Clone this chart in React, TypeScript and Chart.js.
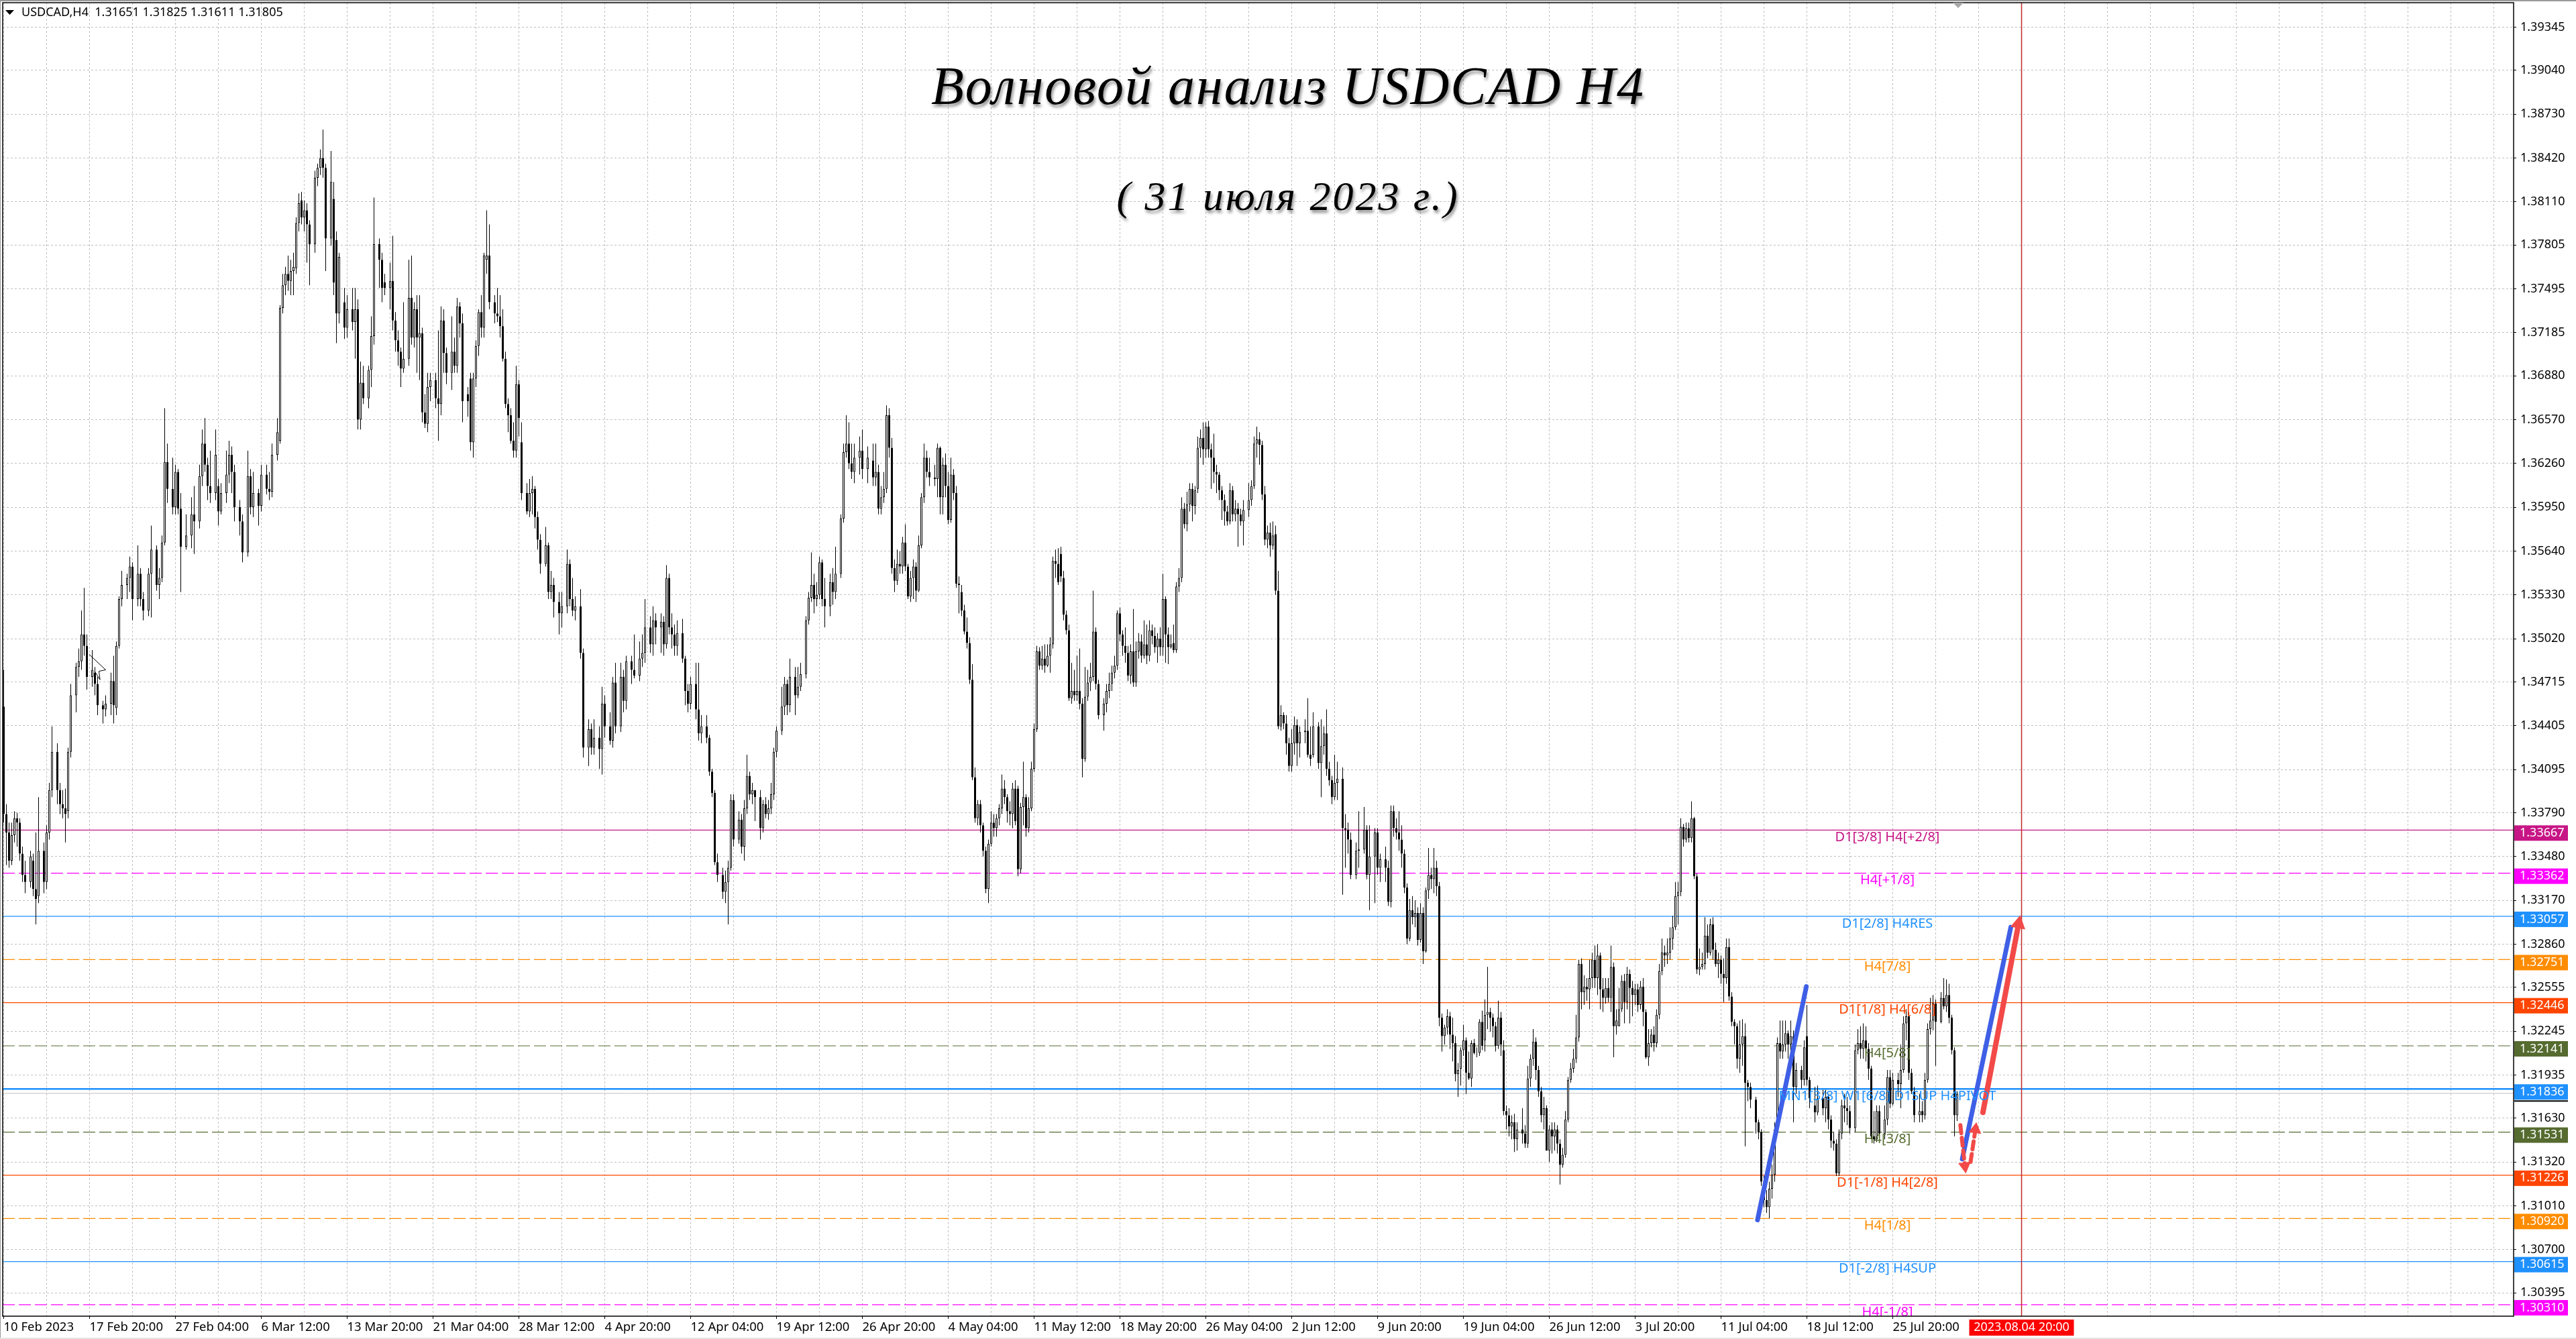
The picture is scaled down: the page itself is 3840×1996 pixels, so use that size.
import React, { useEffect, useRef } from "react";
import { Chart, registerables } from "chart.js";

Chart.register(...registerables);

// bars: [bar number, open, close, high, low], in points above 1.0000
const febBars = [
  [0,3454,3378,3480,3372],[1,3378,3365,3385,3342],[2,3365,3345,3372,3340],[3,3345,3363,3372,3342],[4,3363,3375,3380,3358],
  [5,3375,3372,3379,3355],[6,3372,3350,3375,3345],[7,3350,3335,3355,3330],[8,3335,3330,3345,3322],[10,3330,3348,3352,3326],
  [11,3345,3325,3350,3320],[12,3325,3318,3365,3300],[13,3320,3352,3390,3315],[15,3352,3330,3358,3322],[16,3330,3365,3370,3325],
  [17,3365,3395,3400,3360],[18,3395,3422,3440,3390],[20,3422,3395,3428,3385],[21,3395,3385,3400,3378],[22,3385,3382,3395,3375],
  [23,3382,3378,3396,3358],[24,3380,3422,3425,3375],[25,3422,3462,3470,3418],[27,3462,3482,3485,3450],[28,3482,3486,3495,3475],
  [29,3486,3505,3522,3480],[30,3505,3497,3538,3490],[31,3497,3475,3505,3466],[33,3475,3480,3494,3468],[34,3478,3470,3482,3462],
  [35,3470,3455,3475,3448],[37,3455,3452,3458,3442],[38,3452,3456,3462,3447],[40,3456,3472,3478,3448],[41,3472,3455,3490,3442],
  [42,3453,3497,3500,3448],[43,3497,3530,3532,3495],[44,3530,3540,3550,3525],[46,3540,3545,3548,3530],[47,3545,3553,3560,3535],
  [48,3553,3530,3556,3515],[50,3530,3548,3568,3525],[51,3548,3530,3552,3525],[52,3530,3522,3535,3515],[54,3522,3548,3552,3518],
  [55,3548,3565,3582,3517],[57,3565,3540,3568,3536],[58,3540,3545,3552,3530],[59,3545,3570,3575,3542],[60,3570,3627,3665,3568],
  [61,3627,3608,3640,3598],[63,3608,3595,3630,3590],[64,3595,3620,3625,3590],[65,3620,3594,3622,3590],[66,3594,3567,3605,3535],
  [68,3567,3575,3590,3565],[70,3575,3590,3602,3566],[71,3590,3585,3610,3562],[73,3585,3617,3625,3580],[74,3617,3640,3650,3610],
  [75,3640,3625,3658,3620],[76,3625,3610,3630,3600],[77,3610,3605,3635,3598],[79,3605,3632,3650,3600],
];

const marBars = [
  [80,3610,3592,3615,3582],[81,3592,3605,3612,3590],[83,3605,3618,3635,3598],[84,3618,3632,3642,3612],[85,3632,3620,3638,3605],
  [86,3620,3595,3625,3585],[88,3595,3585,3600,3575],[89,3585,3563,3590,3556],[91,3563,3617,3635,3560],[92,3617,3595,3622,3590],
  [93,3595,3605,3620,3588],[95,3605,3596,3608,3582],[96,3596,3618,3625,3592],[98,3618,3608,3625,3604],[99,3608,3606,3620,3600],
  [100,3606,3632,3640,3602],[102,3632,3648,3658,3628],[103,3642,3736,3738,3640],[104,3736,3752,3760,3732],[105,3752,3760,3765,3745],
  [106,3760,3755,3773,3748],[107,3755,3762,3770,3745],[108,3762,3765,3775,3745],[109,3764,3796,3800,3760],[110,3796,3810,3817,3790],
  [111,3812,3800,3818,3795],[112,3800,3805,3812,3790],[113,3805,3795,3810,3768],[114,3795,3781,3798,3752],[116,3781,3828,3833,3775],
  [117,3828,3835,3838,3822],[118,3835,3842,3848,3830],[119,3842,3835,3862,3828],[120,3835,3785,3838,3762],[122,3785,3825,3847,3780],
  [123,3813,3754,3825,3745],[124,3784,3732,3790,3711],[125,3732,3772,3775,3725],[127,3740,3722,3750,3714],[128,3722,3735,3745,3715],
  [130,3735,3726,3750,3720],[131,3726,3735,3750,3700],[132,3735,3657,3742,3650],[133,3657,3683,3698,3650],[134,3683,3672,3695,3668],
  [136,3672,3692,3695,3665],[137,3692,3716,3730,3680],[138,3716,3781,3814,3710],[140,3781,3770,3785,3750],[141,3770,3750,3775,3740],
  [142,3754,3750,3760,3745],[144,3750,3755,3768,3735],[145,3755,3727,3787,3720],[146,3727,3713,3733,3705],[147,3713,3705,3720,3695],
  [148,3705,3693,3708,3680],[149,3693,3700,3740,3690],[151,3700,3743,3770,3695],[152,3743,3715,3773,3710],[153,3715,3735,3740,3708],
  [154,3735,3715,3745,3690],[155,3715,3718,3745,3685],[156,3718,3662,3722,3655],[157,3662,3654,3675,3651],[158,3654,3680,3690,3648],
  [159,3680,3685,3690,3670],[161,3685,3672,3690,3665],[162,3672,3668,3720,3642],[163,3668,3727,3737,3660],[164,3727,3704,3735,3690],
  [165,3704,3690,3708,3682],[167,3690,3705,3730,3678],[168,3705,3695,3715,3690],[169,3695,3737,3743,3690],[170,3737,3725,3740,3715],
  [171,3725,3670,3732,3655],[173,3675,3670,3680,3659],[174,3686,3641,3690,3635],[175,3641,3686,3690,3630],[176,3686,3709,3713,3680],
  [177,3709,3733,3735,3702],[178,3733,3722,3745,3715],[179,3722,3773,3775,3715],[180,3770,3773,3805,3760],[181,3773,3740,3795,3735],
  [183,3740,3732,3745,3725],[184,3732,3730,3750,3726],[185,3730,3723,3745,3715],[186,3723,3700,3735,3698],[187,3700,3668,3705,3665],
  [188,3668,3660,3672,3648],[189,3660,3642,3665,3640],[190,3642,3635,3655,3630],[191,3635,3682,3695,3630],[192,3682,3658,3685,3645],
  [193,3641,3605,3655,3600],[195,3605,3592,3612,3590],[196,3592,3605,3615,3588],[197,3605,3608,3617,3590],[198,3608,3588,3610,3580],
  [199,3588,3572,3592,3565],[200,3572,3555,3576,3548],[202,3555,3568,3581,3553],[203,3568,3535,3570,3530],[204,3535,3540,3550,3530],
  [205,3540,3528,3545,3517],[207,3528,3520,3535,3505],[208,3520,3525,3535,3510],[210,3525,3555,3565,3520],
];

const aprBars = [
  [211,3555,3530,3558,3525],[212,3530,3522,3545,3518],[213,3522,3525,3532,3515],[215,3525,3492,3537,3488],[216,3492,3425,3495,3418],
  [218,3425,3438,3445,3412],[219,3438,3425,3442,3420],[220,3425,3432,3445,3420],[222,3432,3424,3440,3410],[223,3424,3456,3468,3406],
  [224,3456,3440,3462,3432],[226,3440,3430,3450,3427],[227,3430,3471,3475,3425],[228,3471,3440,3485,3435],[230,3440,3475,3485,3436],
  [231,3475,3458,3480,3450],[232,3458,3486,3490,3452],[234,3486,3480,3490,3470],[235,3480,3476,3505,3474],[237,3476,3488,3500,3472],
  [238,3488,3492,3505,3482],[239,3492,3510,3530,3485],[241,3510,3498,3518,3492],[242,3498,3515,3525,3490],[243,3515,3510,3520,3498],
  [245,3510,3514,3520,3492],[246,3514,3498,3518,3490],[247,3498,3545,3554,3495],[248,3545,3510,3548,3505],[249,3510,3505,3520,3495],
  [250,3505,3497,3512,3490],[251,3497,3506,3515,3490],[253,3506,3488,3516,3485],[254,3488,3465,3490,3455],[255,3465,3456,3470,3450],
  [256,3456,3470,3475,3452],[258,3470,3452,3485,3445],[259,3452,3435,3485,3430],[260,3435,3440,3448,3428],[262,3440,3432,3448,3428],
  [263,3432,3408,3434,3405],[264,3408,3393,3410,3390],[265,3393,3344,3395,3342],[266,3344,3335,3350,3330],[268,3335,3323,3340,3318],
  [269,3323,3330,3338,3315],[270,3330,3340,3345,3300],[271,3340,3388,3392,3338],[272,3388,3360,3392,3355],[274,3360,3374,3380,3357],
  [275,3374,3355,3378,3350],[276,3355,3382,3388,3345],[277,3382,3405,3420,3378],[278,3405,3392,3408,3388],[279,3392,3395,3400,3385],
  [280,3395,3390,3395,3373],[282,3390,3368,3395,3360],[283,3368,3385,3388,3365],[284,3385,3378,3390,3375],[285,3378,3382,3388,3374],
  [286,3382,3392,3400,3378],[287,3392,3422,3425,3388],[288,3422,3437,3440,3418],[290,3437,3454,3468,3434],[291,3454,3470,3475,3448],
  [292,3470,3455,3473,3448],[293,3455,3475,3488,3450],[295,3475,3462,3482,3448],[296,3462,3468,3482,3460],[297,3468,3477,3485,3465],
  [299,3477,3515,3518,3474],[300,3515,3531,3535,3512],[301,3531,3540,3563,3528],[302,3540,3530,3548,3520],[303,3530,3533,3542,3525],
  [304,3533,3556,3560,3530],[305,3556,3530,3558,3525],[306,3530,3525,3545,3510],[308,3525,3542,3548,3518],[309,3542,3535,3552,3526],
  [310,3535,3548,3567,3530],[312,3548,3587,3590,3545],[313,3587,3634,3640,3584],[314,3634,3640,3660,3630],[315,3640,3626,3655,3622],
  [316,3626,3620,3640,3615],[317,3620,3630,3640,3612],[319,3630,3635,3645,3618],[320,3635,3622,3650,3615],[322,3622,3630,3638,3612],
  [324,3628,3616,3640,3610],[325,3616,3620,3640,3610],[326,3620,3594,3625,3590],[327,3594,3602,3610,3590],[328,3602,3608,3620,3598],
  [329,3608,3660,3667,3605],[330,3660,3637,3665,3630],[331,3637,3552,3644,3548],[332,3552,3543,3558,3535],[333,3543,3555,3565,3540],
  [334,3555,3553,3564,3548],[335,3553,3570,3574,3548],[336,3570,3553,3583,3550],[337,3553,3532,3555,3530],[338,3532,3545,3550,3528],
  [339,3545,3553,3558,3530],[340,3553,3536,3556,3528],
];

const mayBars = [
  [341,3536,3568,3575,3535],[342,3568,3602,3605,3566],[343,3602,3630,3640,3598],[344,3630,3620,3635,3616],[345,3620,3616,3630,3610],
  [347,3616,3615,3625,3610],[348,3615,3637,3640,3602],[349,3637,3602,3638,3590],[350,3602,3625,3630,3590],[351,3625,3610,3633,3602],
  [352,3610,3586,3620,3583],[353,3586,3618,3630,3584],[354,3618,3605,3622,3600],[355,3605,3541,3610,3538],[356,3541,3540,3546,3520],
  [357,3535,3522,3540,3518],[358,3522,3507,3526,3505],[359,3507,3499,3517,3495],[360,3499,3473,3503,3470],[361,3473,3404,3484,3402],
  [362,3404,3375,3411,3372],[363,3375,3385,3388,3370],[364,3385,3370,3388,3365],[365,3370,3352,3372,3348],[366,3352,3325,3355,3322],
  [367,3325,3357,3360,3315],[368,3357,3372,3380,3355],[369,3372,3368,3378,3362],[370,3368,3375,3378,3362],[371,3375,3382,3385,3370],
  [372,3382,3396,3406,3378],[373,3396,3390,3402,3385],[374,3390,3380,3392,3372],[375,3380,3378,3387,3370],[376,3378,3396,3400,3368],
  [377,3396,3373,3402,3370],[378,3396,3339,3398,3334],[379,3339,3383,3386,3336],[380,3383,3390,3415,3370],[381,3390,3368,3392,3362],
  [382,3368,3382,3390,3365],[383,3382,3410,3415,3380],[384,3410,3438,3442,3408],[385,3438,3493,3497,3436],[386,3493,3483,3496,3480],
  [387,3483,3488,3497,3480],[388,3488,3483,3498,3478],[389,3483,3490,3498,3482],[390,3490,3498,3503,3478],[391,3498,3557,3560,3495],
  [392,3557,3555,3565,3545],[393,3555,3542,3566,3540],[394,3562,3546,3567,3542],[395,3545,3519,3550,3515],[396,3519,3508,3522,3505],
  [397,3508,3460,3512,3458],[398,3460,3465,3485,3456],[399,3465,3462,3480,3458],[400,3462,3465,3490,3458],[401,3465,3456,3495,3452],
  [402,3456,3417,3460,3404],[403,3417,3461,3482,3415],[404,3461,3471,3480,3458],[405,3471,3475,3485,3465],[406,3475,3507,3536,3472],
  [407,3507,3470,3510,3466],[408,3470,3448,3473,3445],[410,3448,3456,3460,3437],[411,3456,3465,3470,3450],[412,3465,3470,3478,3460],
  [413,3470,3478,3483,3465],[414,3478,3483,3490,3474],[415,3483,3520,3522,3480],[416,3520,3505,3524,3500],[417,3505,3497,3508,3490],
  [418,3497,3492,3510,3485],[419,3492,3476,3497,3472],[420,3476,3493,3498,3470],[421,3493,3471,3523,3468],[422,3471,3493,3500,3468],
  [423,3493,3500,3506,3488],[424,3500,3490,3505,3485],[425,3490,3498,3515,3488],[426,3498,3490,3512,3484],[427,3490,3508,3515,3486],
  [428,3508,3504,3512,3498],[429,3504,3496,3510,3492],[430,3496,3502,3506,3485],[431,3502,3496,3510,3490],[432,3496,3530,3548,3490],
  [433,3530,3505,3532,3485],[434,3505,3496,3510,3484],[435,3496,3498,3505,3495],[436,3499,3494,3512,3492],[437,3494,3539,3542,3492],
  [438,3539,3545,3552,3535],[439,3545,3594,3602,3542],[440,3594,3583,3598,3580],[441,3583,3597,3606,3578],[442,3597,3608,3612,3592],
  [443,3608,3596,3612,3585],[444,3596,3607,3610,3590],[445,3608,3637,3645,3605],[446,3637,3644,3650,3630],[447,3644,3636,3655,3625],
  [448,3636,3652,3655,3630],[449,3652,3636,3656,3630],[450,3636,3630,3640,3608],[451,3630,3620,3647,3612],[452,3620,3618,3625,3605],
  [453,3618,3607,3620,3600],[454,3607,3600,3610,3586],[455,3600,3592,3604,3582],[456,3592,3585,3596,3582],[457,3585,3607,3612,3583],
  [458,3607,3590,3610,3585],[459,3590,3594,3600,3585],[460,3594,3590,3598,3567],[461,3590,3585,3594,3582],[462,3585,3593,3600,3568],
  [464,3593,3600,3612,3588],[465,3600,3610,3614,3596],[466,3610,3640,3645,3608],[467,3640,3643,3652,3630],[468,3643,3639,3648,3625],
  [469,3639,3604,3642,3600],[470,3604,3572,3610,3568],
];

const junBars = [
  [471,3572,3577,3582,3566],[472,3577,3568,3584,3560],[473,3568,3575,3585,3565],[474,3576,3536,3582,3533],[475,3536,3440,3550,3438],
  [476,3440,3448,3455,3437],[477,3448,3442,3450,3438],[478,3442,3428,3448,3420],[479,3428,3412,3432,3408],[480,3412,3428,3438,3408],
  [481,3428,3441,3447,3420],[482,3441,3428,3445,3412],[483,3428,3436,3440,3418],[485,3436,3437,3445,3428],[486,3437,3420,3460,3418],
  [487,3420,3417,3440,3412],[488,3420,3440,3450,3418],[490,3440,3414,3443,3410],[491,3414,3426,3445,3390],[492,3426,3435,3440,3420],
  [493,3435,3410,3452,3405],[494,3410,3402,3415,3398],[495,3402,3390,3405,3385],[496,3390,3400,3420,3388],[497,3400,3403,3415,3388],
  [499,3403,3368,3411,3321],[500,3368,3367,3378,3340],[501,3367,3360,3372,3350],[502,3360,3335,3365,3332],[504,3335,3352,3358,3332],
  [505,3352,3353,3380,3340],[507,3353,3367,3383,3350],[508,3367,3335,3370,3332],[509,3335,3348,3370,3310],[511,3348,3365,3368,3315],
  [512,3365,3340,3368,3335],[513,3340,3346,3350,3330],[515,3346,3340,3355,3330],[516,3340,3316,3345,3313],[517,3316,3380,3384,3312],
  [518,3380,3368,3384,3362],[519,3368,3365,3375,3360],[520,3365,3360,3380,3352],[521,3360,3350,3370,3340],[522,3350,3326,3353,3322],
  [523,3326,3290,3329,3286],[524,3290,3310,3318,3288],[525,3310,3305,3320,3300],[526,3305,3308,3317,3298],[527,3308,3289,3312,3285],
  [528,3289,3308,3315,3287],[529,3308,3281,3312,3272],[530,3281,3324,3326,3280],[531,3324,3335,3354,3318],[532,3335,3332,3340,3325],
  [533,3332,3340,3354,3322],[534,3340,3327,3345,3320],[535,3327,3234,3330,3228],[536,3234,3221,3237,3210],[537,3221,3227,3229,3215],
  [538,3227,3235,3240,3222],[539,3235,3222,3238,3212],[540,3222,3216,3234,3203],[541,3216,3194,3221,3189],[542,3194,3197,3202,3178],
  [543,3198,3211,3213,3186],[544,3211,3218,3229,3207],[545,3218,3195,3220,3180],[546,3195,3191,3210,3190],[547,3191,3216,3218,3185],
  [548,3216,3209,3219,3208],[549,3209,3209,3213,3206],[550,3209,3231,3233,3207],[551,3231,3214,3239,3211],[552,3218,3236,3247,3210],
  [553,3236,3238,3270,3226],[554,3238,3234,3241,3224],[555,3234,3228,3237,3220],[556,3228,3214,3231,3210],[557,3214,3234,3246,3212],
  [558,3234,3215,3238,3207],[559,3211,3168,3218,3165],[560,3168,3165,3172,3155],[561,3165,3157,3170,3150],[562,3157,3160,3165,3148],
  [563,3160,3148,3166,3139],[564,3148,3155,3160,3140],[566,3155,3152,3170,3145],[567,3152,3145,3158,3142],[568,3145,3191,3200,3142],
  [569,3191,3205,3208,3185],[570,3205,3217,3226,3200],[571,3217,3197,3220,3190],[572,3197,3182,3200,3178],[573,3182,3165,3185,3160],
  [574,3165,3170,3178,3155],[575,3170,3140,3172,3140],[576,3140,3155,3158,3132],[577,3155,3150,3160,3138],[578,3150,3155,3160,3140],
  [579,3155,3145,3158,3138],[580,3145,3130,3148,3116],[581,3130,3137,3142,3128],[582,3137,3162,3168,3135],[583,3162,3190,3192,3160],
  [584,3190,3198,3202,3188],[585,3198,3205,3212,3195],[586,3205,3220,3236,3202],[587,3220,3272,3275,3217],[588,3272,3252,3276,3240],
  [589,3252,3256,3264,3243],[590,3256,3254,3262,3246],[591,3254,3262,3275,3240],[592,3262,3275,3280,3255],[593,3275,3262,3285,3255],
  [594,3262,3278,3286,3250],[595,3278,3254,3280,3240],[596,3254,3248,3262,3238],[597,3248,3255,3262,3244],[598,3255,3248,3262,3245],
  [599,3248,3270,3285,3238],
];

const julBars = [
  [600,3270,3228,3273,3206],[601,3228,3232,3240,3222],[602,3228,3240,3255,3228],[603,3240,3260,3264,3238],[604,3260,3245,3265,3230],
  [605,3245,3265,3270,3240],[606,3265,3255,3268,3230],[607,3255,3250,3260,3235],[608,3250,3254,3258,3243],[609,3254,3243,3258,3238],
  [610,3243,3256,3260,3240],[611,3256,3238,3262,3228],[612,3238,3206,3240,3205],[613,3206,3216,3226,3200],[614,3216,3222,3226,3213],
  [615,3222,3216,3228,3210],[616,3216,3236,3240,3213],[617,3236,3267,3272,3233],[618,3267,3280,3290,3264],[619,3280,3278,3285,3270],
  [620,3278,3280,3290,3272],[621,3280,3290,3298,3275],[622,3290,3298,3306,3282],[623,3298,3320,3330,3296],[624,3320,3323,3330,3300],
  [625,3323,3369,3375,3320],[626,3369,3360,3371,3355],[627,3360,3368,3372,3358],[628,3368,3361,3372,3358],[629,3361,3375,3387,3358],
  [630,3375,3334,3376,3332],[631,3334,3268,3336,3265],[632,3268,3270,3283,3264],[633,3270,3272,3280,3268],[634,3272,3292,3305,3268],
  [635,3292,3280,3300,3276],[636,3280,3300,3304,3278],[637,3300,3282,3305,3275],[638,3282,3272,3287,3270],[639,3272,3275,3280,3262],
  [640,3275,3265,3278,3258],[641,3265,3262,3276,3245],[642,3262,3284,3290,3258],[643,3284,3249,3290,3246],[644,3249,3231,3252,3228],
  [645,3231,3228,3233,3215],[646,3228,3205,3230,3198],[647,3205,3215,3232,3195],[648,3215,3221,3233,3200],[649,3221,3188,3230,3143],
  [650,3188,3185,3190,3175],[651,3185,3176,3188,3170],[653,3176,3160,3178,3152],[654,3160,3153,3162,3148],[655,3153,3118,3155,3115],
  [656,3118,3105,3122,3100],[657,3105,3100,3112,3096],[658,3100,3113,3118,3092],[659,3113,3123,3130,3106],[660,3123,3155,3160,3118],
  [661,3155,3216,3220,3152],[662,3216,3210,3232,3205],[663,3210,3215,3232,3205],[664,3215,3223,3232,3210],[665,3223,3215,3225,3205],
  [666,3215,3221,3232,3210],[667,3221,3185,3225,3160],[668,3185,3197,3202,3180],[670,3197,3190,3200,3184],[671,3190,3213,3218,3186],
  [672,3221,3190,3243,3186],[673,3190,3177,3192,3170],[675,3172,3167,3185,3160],[676,3167,3177,3186,3165],[678,3177,3170,3183,3165],
  [679,3170,3178,3183,3160],[680,3178,3162,3180,3155],[681,3162,3147,3165,3142],[682,3147,3145,3153,3140],[683,3145,3124,3148,3122],
  [684,3124,3152,3155,3122],[685,3152,3172,3176,3148],[686,3172,3170,3180,3160],[687,3170,3168,3178,3158],[688,3168,3156,3172,3152],
  [690,3156,3211,3215,3153],[691,3211,3216,3226,3208],[692,3216,3212,3228,3205],[693,3212,3218,3230,3205],[694,3218,3212,3228,3203],
  [695,3212,3198,3216,3190],[696,3198,3150,3200,3148],[697,3150,3148,3168,3145],[698,3148,3168,3172,3146],[699,3168,3152,3172,3148],
  [701,3152,3162,3172,3148],[702,3162,3192,3197,3158],[703,3192,3173,3197,3170],[704,3173,3190,3195,3172],[706,3190,3187,3195,3178],
  [707,3187,3197,3215,3170],[708,3197,3230,3235,3195],[709,3230,3235,3240,3218],[710,3235,3195,3238,3190],[711,3195,3182,3198,3180],
  [712,3182,3165,3185,3160],[714,3165,3168,3180,3160],[715,3168,3165,3175,3160],[716,3165,3190,3195,3162],[717,3190,3226,3230,3188],
  [718,3226,3232,3248,3222],[719,3232,3244,3250,3225],[720,3244,3231,3247,3200],[722,3231,3248,3252,3230],[723,3248,3242,3262,3240],
  [724,3242,3250,3261,3238],[725,3250,3234,3258,3230],[726,3234,3211,3236,3208],[727,3211,3165,3213,3150],[728,3165,3180,3182,3161],
];

const priceTicks = [
  1.39345, 1.3904, 1.3873, 1.3842, 1.3811, 1.37805, 1.37495, 1.37185, 1.3688, 1.3657, 1.3626, 1.3595, 1.3564, 1.3533, 1.3502,
  1.34715, 1.34405, 1.34095, 1.3379, 1.3348, 1.3317, 1.3286, 1.32555, 1.32245, 1.31935, 1.3163, 1.3132, 1.3101, 1.307, 1.30395,
];
const dateLabels = [
  "10 Feb 2023", "17 Feb 20:00", "27 Feb 04:00", "6 Mar 12:00", "13 Mar 20:00", "21 Mar 04:00", "28 Mar 12:00", "4 Apr 20:00",
  "12 Apr 04:00", "19 Apr 12:00", "26 Apr 20:00", "4 May 04:00", "11 May 12:00", "18 May 20:00", "26 May 04:00", "2 Jun 12:00",
  "9 Jun 20:00", "19 Jun 04:00", "26 Jun 12:00", "3 Jul 20:00", "11 Jul 04:00", "18 Jul 12:00", "25 Jul 20:00",
];

const levelPrices = [1.33667, 1.33362, 1.33057, 1.32751, 1.32446, 1.32141, 1.31836, 1.31531, 1.31226, 1.3092, 1.30615, 1.3031];
const levelColors = ["#C71585", "#FF00FF", "#1E90FF", "#FF8C00", "#FF4500", "#556B2F", "#1E90FF", "#556B2F", "#FF4500", "#FF8C00", "#1E90FF", "#FF00FF"];
const levelDashed = [false, true, false, true, false, true, false, true, false, true, false, true];
const levelLabels = [
  "D1[3/8] H4[+2/8]", "H4[+1/8]", "D1[2/8] H4RES", "H4[7/8]", "D1[1/8] H4[6/8]", "H4[5/8]",
  "MN1[3/8] W1[6/8] D1SUP H4PIVOT", "H4[3/8]", "D1[-1/8] H4[2/8]", "H4[1/8]", "D1[-2/8] H4SUP", "H4[-1/8]",
];
const labelBar = 702;

const bidPrice = 1.31805;
const timeLineBar = 752;
const timeLineLabel = "2023.08.04 20:00";
const headerText = "USDCAD,H4  1.31651 1.31825 1.31611 1.31805";
const titleText = "Волновой анализ USDCAD H4";
const dateText = "( 31 июля 2023 г.)";

// hand drawn lines: [bar, price] start and end
const blueLineA = [[653.6, 1.3091], [671.8, 1.3256]];
const blueLineB = [[729.9, 1.3134], [748, 1.3298]];
const redArrow = [[737.6, 1.3167], [750.9, 1.33004]];
const redDown = [[729.2, 1.3158], [730.9, 1.3129]];
const redUp = [[733, 1.3132], [734.8, 1.3155]];
const cursorMark = [[31.8, 1.3491], [38, 1.348], [35.5, 1.3479], [35.9, 1.3473], [33.9, 1.3479]];

const allBars = [...febBars, ...marBars, ...aprBars, ...mayBars, ...junBars, ...julBars];
const price = (v: number) => 1 + v / 10000;
const pts = (list: number[][]) => list.map(([x, y]) => ({ x, y }));

const X_MIN = -0.375;
const X_MAX = 935.375;
const Y_MIN = 1.30229;
const Y_MAX = 1.39518;
const UI_FONT = '"Noto Sans"';

const zeroPadding = (scale: any) => {
  scale.paddingLeft = 0;
  scale.paddingRight = 0;
  scale.paddingTop = 0;
  scale.paddingBottom = 0;
};

const arrowLine = (data: number[][], color: string, width: number, rotation: number, radius: number, dash: number[] = []) => ({
  type: "line" as const,
  data: pts(data),
  borderColor: color,
  backgroundColor: color,
  borderWidth: width,
  borderCapStyle: "round" as const,
  borderDash: dash,
  pointStyle: "triangle" as const,
  pointRadius: [0, radius],
  pointRotation: [0, rotation],
  pointBorderWidth: 0,
  order: 0,
});

const overlayPlugin = {
  id: "mt4Overlay",
  afterDatasetsDraw(chart: any) {
    const { ctx, chartArea: a, scales } = chart;
    const { x, y } = scales;
    ctx.save();
    ctx.textBaseline = "middle";

    // level captions, cut off by the plot frame like in the terminal
    ctx.save();
    ctx.beginPath();
    ctx.rect(a.left, a.top, a.right - a.left, a.bottom - a.top);
    ctx.clip();
    ctx.font = `20px ${UI_FONT}`;
    ctx.textAlign = "center";
    levelLabels.forEach((label, i) => {
      ctx.fillStyle = levelColors[i];
      ctx.fillText(label, x.getPixelForValue(labelBar), y.getPixelForValue(levelPrices[i]) + 11);
    });
    ctx.restore();

    // frame
    ctx.strokeStyle = "#000";
    ctx.lineWidth = 1.5;
    ctx.strokeRect(a.left, a.top, a.right - a.left, a.bottom - a.top);

    // window edges
    ctx.fillStyle = "#9a9a9a";
    ctx.fillRect(0, 0, 3840, 2);
    ctx.fillRect(0, 0, 1, 1996);
    ctx.fillStyle = "#e4e4e4";
    ctx.fillRect(0, 1994, 3840, 2);

    // price tags
    ctx.font = `18px ${UI_FONT}`;
    ctx.textAlign = "left";
    levelPrices.forEach((p, i) => {
      const py = y.getPixelForValue(p);
      ctx.fillStyle = levelColors[i];
      ctx.fillRect(a.right + 1, py - 7, 80, 23);
      ctx.fillStyle = "#fff";
      ctx.fillText(p.toFixed(5), a.right + 9, py + 4.5);
    });
    ctx.fillStyle = "#000";
    ctx.fillRect(a.right + 1, y.getPixelForValue(levelPrices[6]) + 17, 80, 2);

    // time tag
    const tx = x.getPixelForValue(timeLineBar);
    ctx.fillStyle = "#FF0000";
    ctx.fillRect(tx - 78, a.bottom + 5, 156, 24);
    ctx.fillStyle = "#fff";
    ctx.textAlign = "center";
    ctx.fillText(timeLineLabel, tx, a.bottom + 17);

    // header
    ctx.fillStyle = "#000";
    ctx.textAlign = "left";
    ctx.fillText(headerText, 32, 19);
    ctx.beginPath();
    ctx.moveTo(8, 15);
    ctx.lineTo(21, 15);
    ctx.lineTo(14.5, 22);
    ctx.closePath();
    ctx.fill();

    // chart shift marker
    ctx.fillStyle = "#a8a8a8";
    ctx.beginPath();
    ctx.moveTo(2911, 4);
    ctx.lineTo(2927, 4);
    ctx.lineTo(2919, 12);
    ctx.closePath();
    ctx.fill();

    // title, drop shadow as in the picture
    ctx.shadowColor = "rgba(0,0,0,0.45)";
    ctx.shadowOffsetX = 2;
    ctx.shadowOffsetY = 4;
    ctx.shadowBlur = 4;
    ctx.fillStyle = "#000";
    ctx.textAlign = "center";
    ctx.textBaseline = "alphabetic";
    ctx.font = 'italic 80px "Liberation Serif"';
    ctx.letterSpacing = "2px";
    ctx.fillText(titleText, 1920, 155);
    ctx.font = 'italic 62px "Liberation Serif"';
    ctx.letterSpacing = "3px";
    ctx.fillText(dateText, 1920, 313);
    ctx.restore();
  },
};

export default function App() {
  const canvasRef = useRef<HTMLCanvasElement | null>(null);

  useEffect(() => {
    document.body.style.margin = "0";
    document.body.style.background = "#fff";
    if (!canvasRef.current) return;

    const levelSets = levelPrices.map((p, i) => ({
      type: "line" as const,
      data: [{ x: X_MIN, y: p }, { x: X_MAX, y: p }],
      borderColor: levelColors[i],
      borderWidth: i === 6 ? 2.5 : 1.2,
      borderDash: levelDashed[i] ? [18, 6] : [],
      pointRadius: 0,
      order: 4,
    }));

    const chart = new Chart(canvasRef.current, {
      type: "bar",
      plugins: [overlayPlugin],
      data: {
        datasets: [
          arrowLine(redArrow, "#F24A48", 8, 10.6, 13),
          arrowLine(redDown, "#F24A48", 6, 173, 11, [12, 7]),
          arrowLine(redUp, "#F24A48", 6, 8, 11, [12, 7]),
          { type: "line", data: pts(blueLineA), borderColor: "#3F5FE6", borderWidth: 7, borderCapStyle: "round", pointRadius: 0, order: 0 },
          { type: "line", data: pts(blueLineB), borderColor: "#3F5FE6", borderWidth: 7, borderCapStyle: "round", pointRadius: 0, order: 0 },
          { type: "line", data: pts(cursorMark), borderColor: "#000", borderWidth: 1, pointRadius: 0, order: 0 },
          {
            type: "bar",
            label: "bodies",
            data: allBars.map(([i, o, c]) => ({ x: i, y: [price(Math.min(o, c)), price(Math.max(o, c))] })),
            backgroundColor: allBars.map(([, o, c]) => (c >= o ? "#fff" : "#000")),
            borderColor: "#000",
            borderWidth: 1,
            borderSkipped: false,
            inflateAmount: 0,
            barThickness: 3,
            grouped: false,
            order: 2,
          },
          {
            type: "bar",
            label: "wicks",
            data: allBars.map(([i, , , h, l]) => ({ x: i, y: [price(l), price(h)] })),
            backgroundColor: "#000",
            borderWidth: 0,
            inflateAmount: 0,
            barThickness: 1,
            grouped: false,
            order: 3,
          },
          {
            type: "line",
            data: [{ x: X_MIN, y: bidPrice }, { x: X_MAX, y: bidPrice }],
            borderColor: "#C0C0C0",
            borderWidth: 1,
            pointRadius: 0,
            order: 4,
          },
          ...levelSets,
          {
            type: "line",
            data: [{ x: timeLineBar, y: Y_MIN }, { x: timeLineBar, y: Y_MAX }],
            borderColor: "#C02A2A",
            borderWidth: 1.5,
            pointRadius: 0,
            order: 1,
          },
        ] as any,
      },
      options: {
        responsive: false,
        animation: false,
        devicePixelRatio: 1,
        layout: { autoPadding: false, padding: { left: 4, top: 4, right: 0, bottom: 0 } },
        plugins: { legend: { display: false }, tooltip: { enabled: false } },
        scales: {
          x: {
            type: "linear",
            min: X_MIN,
            max: X_MAX,
            offset: false,
            afterBuildTicks: (scale: any) => {
              const ticks = [];
              for (let v = 0; v <= 928; v += 16) ticks.push({ value: v });
              scale.ticks = ticks;
            },
            afterFit: (scale: any) => {
              scale.height = 34;
              zeroPadding(scale);
            },
            grid: {
              offset: false,
              color: "#C0C0C0",
              lineWidth: 1,
              tickLength: 4,
              tickColor: (c: any) => (c.tick && c.tick.value % 32 === 0 && c.tick.value <= 704 ? "#000" : "rgba(0,0,0,0)"),
            },
            border: { dash: [3, 3], display: false },
            ticks: {
              autoSkip: false,
              maxRotation: 0,
              minRotation: 0,
              align: "start",
              padding: 2,
              color: "#000",
              font: { family: "Noto Sans", size: 18.5 },
              callback: (v: any) => (v % 32 === 0 ? dateLabels[v / 32] ?? "" : ""),
            },
          },
          y: {
            type: "linear",
            position: "right",
            min: Y_MIN,
            max: Y_MAX,
            afterBuildTicks: (scale: any) => {
              scale.ticks = priceTicks.map((value) => ({ value }));
            },
            afterFit: (scale: any) => {
              scale.width = 93;
              zeroPadding(scale);
            },
            grid: { color: "#C0C0C0", lineWidth: 1, tickLength: 4, tickColor: "#000" },
            border: { dash: [3, 3], display: false },
            ticks: {
              autoSkip: false,
              padding: 6,
              color: "#000",
              font: { family: "Noto Sans", size: 18 },
              callback: (v: any) => Number(v).toFixed(5),
            },
          },
        },
      },
    });

    return () => chart.destroy();
  }, []);

  return <canvas ref={canvasRef} width={3840} height={1996} style={{ display: "block" }} />;
}
